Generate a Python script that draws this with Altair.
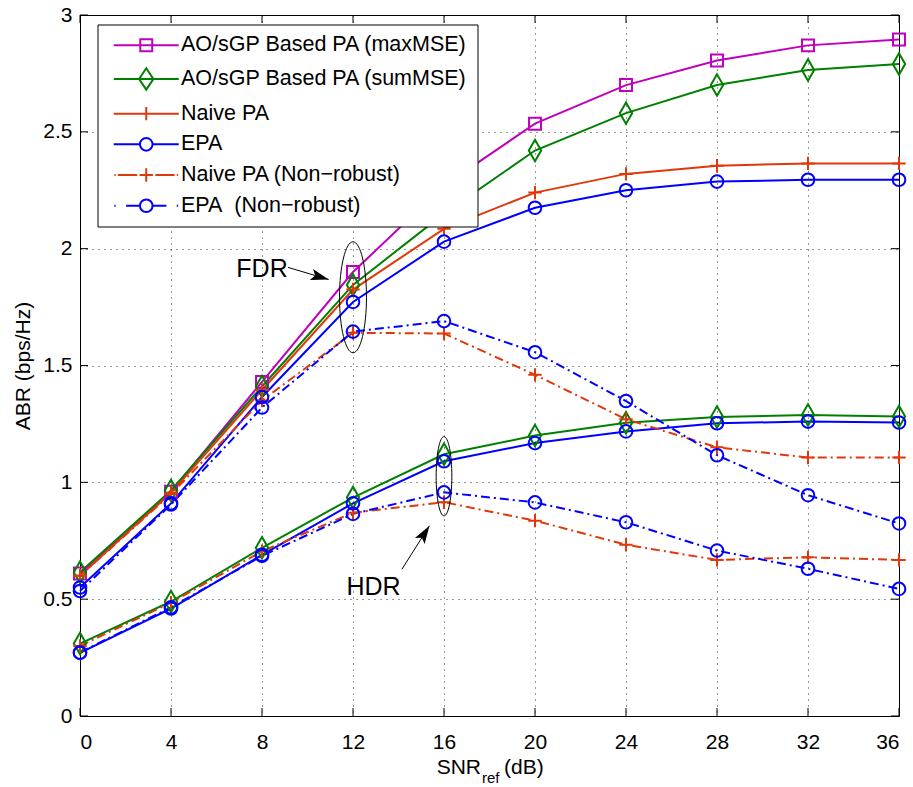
import altair as alt
import pandas as pd

# ---------------- data ----------------
snr = [0, 4, 8, 12, 16, 20, 24, 28, 32, 36]

series_names = [
    "AO/sGP Based PA (maxMSE)",
    "AO/sGP Based PA (sumMSE)",
    "Naive PA",
    "EPA",
    "Naive PA (Non\u2212robust)",
    "EPA\u00a0 (Non\u2212robust)",
]
series_colors = ["#C000C0", "#008000", "#E0380A", "#0000FF", "#E0380A", "#0000FF"]

# FDR (upper group)
fdr_maxmse = [0.61, 0.96, 1.43, 1.90, 2.27, 2.535, 2.70, 2.805, 2.87, 2.895]
fdr_summse = [0.615, 0.965, 1.41, 1.845, 2.15, 2.42, 2.58, 2.70, 2.765, 2.79]
fdr_naive = [0.60, 0.955, 1.395, 1.825, 2.085, 2.24, 2.32, 2.355, 2.365, 2.365]
fdr_epa = [0.55, 0.91, 1.365, 1.772, 2.03, 2.175, 2.25, 2.287, 2.295, 2.295]
fdr_naive_nr = [0.60, 0.95, 1.35, 1.64, 1.637, 1.46, 1.27, 1.15, 1.106, 1.106]
fdr_epa_nr = [0.535, 0.905, 1.32, 1.645, 1.69, 1.557, 1.348, 1.116, 0.945, 0.824]

# HDR (lower group)
hdr_summse = [0.31, 0.49, 0.72, 0.935, 1.12, 1.20, 1.255, 1.28, 1.288, 1.282]
hdr_epa = [0.27, 0.46, 0.69, 0.91, 1.09, 1.168, 1.218, 1.253, 1.26, 1.256]
hdr_naive_nr = [0.30, 0.485, 0.705, 0.87, 0.915, 0.836, 0.733, 0.668, 0.679, 0.668]
hdr_epa_nr = [0.272, 0.465, 0.685, 0.865, 0.957, 0.914, 0.829, 0.708, 0.63, 0.544]

x_ticks = [0, 4, 8, 12, 16, 20, 24, 28, 32, 36]
y_ticks = [0, 0.5, 1, 1.5, 2, 2.5, 3]

# annotations (data coordinates)
ann_text = ["FDR", "HDR"]
ann_x = [8.0, 12.9]
ann_y = [1.915, 0.551]
arrow_x = [9.14, 14.15]
arrow_y = [1.920, 0.628]
arrow_x2 = [10.93, 15.36]
arrow_y2 = [1.868, 0.814]
arrow_angle = [106.5, 32.5]
ell_x = [12, 16]
ell_y = [1.792, 1.026]

# ---------------- table ----------------
groups = [
    (series_names[0], "FDR", fdr_maxmse),
    (series_names[1], "FDR", fdr_summse),
    (series_names[2], "FDR", fdr_naive),
    (series_names[3], "FDR", fdr_epa),
    (series_names[4], "FDR", fdr_naive_nr),
    (series_names[5], "FDR", fdr_epa_nr),
    (series_names[1], "HDR", hdr_summse),
    (series_names[3], "HDR", hdr_epa),
    (series_names[4], "HDR", hdr_naive_nr),
    (series_names[5], "HDR", hdr_epa_nr),
]
rows = []
for name, grp, vals in groups:
    for xv, yv in zip(snr, vals):
        rows.append({"x": xv, "y": yv, "series": name, "group": grp})
df = pd.DataFrame(rows)

W, H = 819, 701
FONT = "Liberation Sans"

xs = alt.Scale(domain=[0, 36], nice=False, zero=False)
ys = alt.Scale(domain=[0, 3], nice=False, zero=False)
color_scale = alt.Scale(domain=series_names, range=series_colors)

leg = alt.Legend(title=None, orient="none", legendX=17.5, legendY=9.5,
                 fillColor="white", strokeColor="black", padding=10, cornerRadius=0,
                 labelFont=FONT, labelFontSize=21.5, labelColor="black", labelLimit=600,
                 symbolSize=169, symbolStrokeWidth=2, symbolOffset=28, labelOffset=24,
                 rowPadding=7.7, zindex=1)

COLOR = alt.Color("series:N", scale=color_scale, legend=leg)

X = alt.X("x:Q", scale=xs, axis=alt.Axis(values=x_ticks, grid=True, domain=False, ticks=False,
                                         labelPadding=15, labelFontSize=21, labelFont=FONT,
                                         labelColor="black", title=None,
                                         gridColor="black", gridDash=[1, 5], gridOpacity=0.8))
Y = alt.Y("y:Q", scale=ys, axis=alt.Axis(values=y_ticks, grid=True, domain=False, ticks=False,
                                         format="~g", labelPadding=8, labelFontSize=21,
                                         labelFont=FONT, labelColor="black",
                                         title="ABR (bps/Hz)", titleFontSize=21, titleFont=FONT,
                                         titleFontWeight="normal", titleColor="black",
                                         titleX=-51, titleY=H / 2, titleAngle=270,
                                         titleAlign="center", titleBaseline="alphabetic",
                                         gridColor="black", gridDash=[1, 5], gridOpacity=0.8))

base = alt.Chart(df)

solid_names = series_names[:4]
nr_names = series_names[4:]

lines_solid = base.transform_filter(
    alt.FieldOneOfPredicate(field="series", oneOf=solid_names)
).mark_line(strokeWidth=2).encode(x=X, y=Y, color=COLOR, detail="group:N")

lines_nr = base.transform_filter(
    alt.FieldOneOfPredicate(field="series", oneOf=nr_names)
).mark_line(strokeWidth=2, strokeDash=[9, 4, 2, 4]).encode(x="x:Q", y="y:Q", color=COLOR, detail="group:N")

P_SQUARE = "M -0.92 -0.92 H 0.92 V 0.92 H -0.92 Z"
P_DIAMOND = "M 0 -1.65 L 0.95 0 L 0 1.65 L -0.95 0 Z"
P_PLUS = "M -1.03 0 H 1.03 M 0 -1.03 V 1.03"
P_CIRCLE = "M 0.97 0 A 0.97 0.97 0 1 1 -0.97 0 A 0.97 0.97 0 1 1 0.97 0 Z"

def markers(shape, names):
    return base.transform_filter(
        alt.FieldOneOfPredicate(field="series", oneOf=names)
    ).mark_point(shape=shape, size=169, filled=False, strokeWidth=2, opacity=1).encode(
        x="x:Q", y="y:Q", color=COLOR,
    )

m_sq = markers(P_SQUARE, [series_names[0]])
m_di = markers(P_DIAMOND, [series_names[1]])
m_pl = markers(P_PLUS, [series_names[2], series_names[4]])
m_ci = markers(P_CIRCLE, [series_names[3], series_names[5]])

# legend symbols: line + marker
L_SQ = "M -5 0 H 5 " + P_SQUARE
L_DI = "M -5 0 H 5 M 0 -1.65 L 1.1 0 L 0 1.65 L -1.1 0 Z"
L_PL = "M -5 0 H 5 M 0 -1.03 V 1.03"
L_CI = "M -5 0 H -0.97 M 0.97 0 H 5 " + P_CIRCLE
L_PL_NR = "M -4.9 0 H -4.7 M -4.36 0 H -1.4 M -1.03 0 H 1.03 M 0 -1.03 V 1.03 M 1.4 0 H 4.36 M 4.7 0 H 4.9"
L_CI_NR = "M -4.9 0 H -4.7 M -3.1 0 H -0.97 M 0.97 0 H 3.1 M 4.7 0 H 4.9 " + P_CIRCLE
legend_paths = [L_SQ, L_DI, L_PL, L_CI, L_PL_NR, L_CI_NR]

legend_layer = alt.Chart(df[(df["x"] == 0) & (df["group"] == "FDR")]).mark_point(
    size=0, filled=False
).encode(
    x="x:Q", y="y:Q",
    color=COLOR,
    shape=alt.Shape("series:N", scale=alt.Scale(domain=series_names, range=legend_paths), legend=leg),
)

# inner tick marks
xt = alt.Chart(pd.DataFrame({"v": x_ticks}))
yt = alt.Chart(pd.DataFrame({"v": y_ticks}))
tick_b = xt.mark_rule(color="black", strokeWidth=1).encode(x="v:Q", y=alt.value(H), y2=alt.value(H - 8))
tick_t = xt.mark_rule(color="black", strokeWidth=1).encode(x="v:Q", y=alt.value(0), y2=alt.value(8))
tick_l = yt.mark_rule(color="black", strokeWidth=1).encode(y="v:Q", x=alt.value(0), x2=alt.value(8))
tick_r = yt.mark_rule(color="black", strokeWidth=1).encode(y="v:Q", x=alt.value(W), x2=alt.value(W - 8))

# annotations
ann_df = pd.DataFrame({"t": ann_text, "x": ann_x, "y": ann_y})
texts = alt.Chart(ann_df).mark_text(fontSize=25, font=FONT, color="black",
                                    align="center", baseline="middle").encode(
    x="x:Q", y="y:Q", text="t:N")

arr_df = pd.DataFrame({"x": arrow_x, "y": arrow_y, "x2": arrow_x2, "y2": arrow_y2, "a": arrow_angle})
arrows = alt.Chart(arr_df).mark_rule(color="black", strokeWidth=1).encode(
    x="x:Q", y="y:Q", x2="x2:Q", y2="y2:Q")
heads = alt.Chart(arr_df).mark_point(
    shape="M 0 0 L 0.32 1 L 0 0.78 L -0.32 1 Z", size=1296, filled=True,
    color="black", opacity=1, strokeWidth=0).encode(
    x="x2:Q", y="y2:Q", angle=alt.Angle("a:Q", scale=None))

ell1 = alt.Chart(pd.DataFrame({"x": [ell_x[0]], "y": [ell_y[0]]})).mark_point(
    shape="M 0 -1 A 0.243 1 0 1 1 0 1 A 0.243 1 0 1 1 0 -1 Z", size=12321,
    filled=False, color="black", strokeWidth=1, opacity=1).encode(x="x:Q", y="y:Q")
ell2 = alt.Chart(pd.DataFrame({"x": [ell_x[1]], "y": [ell_y[1]]})).mark_point(
    shape="M 0 -1 A 0.198 1 0 1 1 0 1 A 0.198 1 0 1 1 0 -1 Z", size=6288,
    filled=False, color="black", strokeWidth=1, opacity=1).encode(x="x:Q", y="y:Q")

# x axis title with subscript
one = alt.Chart(pd.DataFrame({"k": [0]}))
t_snr = one.mark_text(text="SNR", fontSize=21, font=FONT, color="black",
                      align="right", baseline="alphabetic").encode(
    x=alt.value(401), y=alt.value(759))
t_ref = one.mark_text(text="ref", fontSize=15, font=FONT, color="black",
                      align="left", baseline="alphabetic").encode(
    x=alt.value(402), y=alt.value(768))
t_db = one.mark_text(text="(dB)", fontSize=21, font=FONT, color="black",
                     align="left", baseline="alphabetic").encode(
    x=alt.value(424), y=alt.value(759))

chart = alt.layer(
    tick_b, tick_t, tick_l, tick_r,
    lines_solid, lines_nr, m_sq, m_di, m_pl, m_ci, legend_layer,
    ell1, ell2, arrows, heads, texts,
    t_snr, t_ref, t_db,
).properties(
    width=W, height=H,
    autosize=alt.AutoSizeParams(type="none"),
    padding={"left": 80, "top": 15, "right": 14, "bottom": 71},
).configure(font=FONT).configure_view(stroke="black", strokeWidth=1)

chart.save("out.html", embed_options={"renderer": "svg", "actions": False})
